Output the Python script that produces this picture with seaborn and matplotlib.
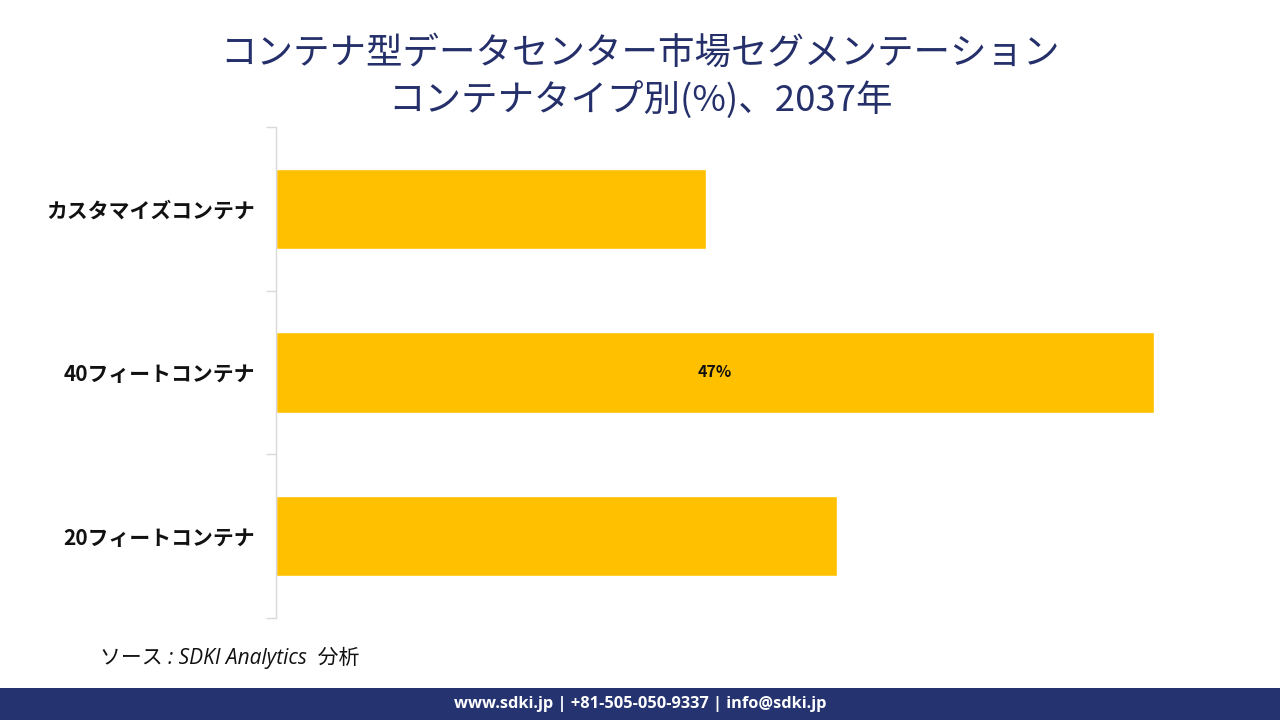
import matplotlib
matplotlib.use("Agg")
import matplotlib.pyplot as plt
import seaborn as sns
import pandas as pd
from matplotlib.patches import Rectangle

categories = ["カスタマイズコンテナ", "40フィートコンテナ", "20フィートコンテナ"]
shares = [23, 47, 30]
shown_labels = ["", "47%", ""]

title_text = "コンテナ型データセンター市場セグメンテーション\nコンテナタイプ別(%)、2037年"
source_text = "ソース : SDKI Analytics  分析"
footer_text = "www.sdki.jp | +81-505-050-9337 | info@sdki.jp"

sns.set_theme(style="white")
plt.rcParams['font.family'] = ['Noto Sans CJK JP', 'DejaVu Sans']

df = pd.DataFrame({"category": categories, "share": shares})

fig = plt.figure(figsize=(12.8, 7.2), dpi=100)
ax = fig.add_axes([0.2156, 0.1417, 0.730, 0.6819])

sns.barplot(data=df, x="share", y="category", orient="h", color="#FFC000",
            saturation=1, width=0.49, ax=ax)

ax.set_xlim(0, 50)
ax.set_ylim(2.5, -0.5)
ax.set_xlabel("")
ax.set_ylabel("")
ax.set_xticks([])
for s in ["top", "right", "bottom"]:
    ax.spines[s].set_visible(False)
ax.spines["left"].set_color("#d9d9d9")
ax.spines["left"].set_linewidth(1.0)

ax.set_yticks(range(len(categories)))
ax.set_yticklabels(categories, fontsize=15, fontweight="bold", color="#111111")
ax.tick_params(axis="y", which="major", left=True, length=0, pad=15)
ax.set_yticks([-0.5, 0.5, 1.5, 2.5], minor=True)
ax.tick_params(axis="y", which="minor", left=True, length=7, color="#d9d9d9", width=1)

ax.bar_label(ax.containers[0], labels=shown_labels, label_type="center",
             fontsize=11.5, fontweight="bold", color="#111111", padding=0)

fig.text(0.5, 0.893, title_text, ha="center", va="center", fontsize=26.3,
         color="#25306b", linespacing=1.3)

fig.text(0.078, 0.086, source_text, ha="left", va="center", fontsize=15,
         style="italic", color="#111111",
         family=["Open Sans", "Noto Sans CJK JP", "DejaVu Sans"])

fig.patches.append(Rectangle((0, 0), 1, 32/720, transform=fig.transFigure,
                             facecolor="#253470", edgecolor="none", zorder=0))
fig.text(0.5, 16/720, footer_text, ha="center", va="center", fontsize=11.8,
         fontweight="bold", color="white", family=["Open Sans", "DejaVu Sans"])

fig.savefig("out.png", dpi=100)
